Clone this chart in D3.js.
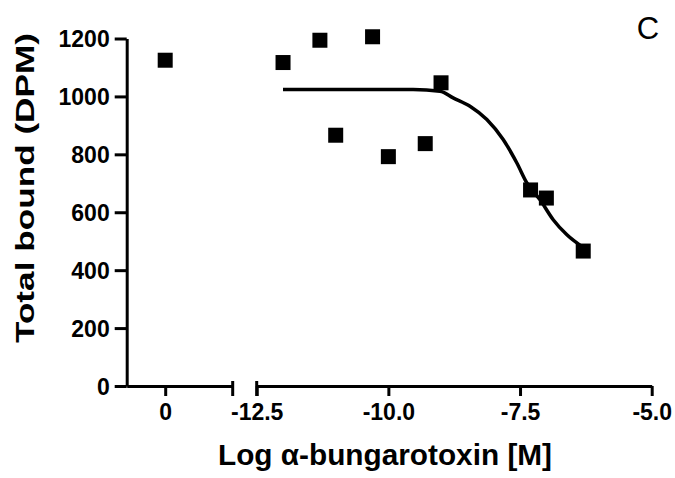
<!DOCTYPE html>
<html>
<head>
<meta charset="utf-8">
<script src="https://cdn.jsdelivr.net/npm/d3@7"></script>
<style>
  body { margin: 0; background: #fff; }
  svg { display: block; font-family: "Liberation Sans", Arial, sans-serif; }
</style>
</head>
<body>
<div id="chart"></div>
<script>
// control (no toxin), plotted on the left axis segment
const ctrlDose  = [0]
const ctrlBound = [1125]

// log [alpha-bungarotoxin] vs total bound
const logDose = [-12, -11.3, -11, -10.3, -10, -9.3, -9, -7.3, -7, -6.3]
const bound   = [1117, 1194, 866, 1206, 792, 837, 1047, 677, 649, 466]

// fitted curve
const fitDose  = [-12, -9.53, -9.02, -8.77, -8.45, -8.13, -7.82, -7.56, -7.37, -7.12, -6.87, -6.61, -6.33]
const fitBound = [1024, 1024, 1018, 995, 966, 920, 851, 770, 701, 643, 574, 522, 482]

const yTicks  = [0, 200, 400, 600, 800, 1000, 1200]
const x0Ticks = [0]
const x1Ticks = [-12.5, -10.0, -7.5, -5.0]

const W = 675, H = 478

const svg = d3.select("#chart").append("svg")
    .attr("width", W)
    .attr("height", H)

// scales (broken x axis: two segments)
const y  = d3.scaleLinear().domain([0, 1200]).range([386, 38.5])
const x0 = d3.scaleLinear().domain([-0.73, 1.28]).range([126.7, 232.7])
const x1 = d3.scaleLinear().domain([-12.5, -5]).range([256.7, 651.7])

const styleAxis = function(g) {
    g.selectAll("path, line")
        .attr("stroke", "#000")
        .attr("stroke-width", 3)
    g.selectAll("text")
        .attr("fill", "#000")
        .style("font-size", "23px")
        .style("font-weight", "bold")
}

// Y axis
svg.append("g")
    .attr("transform", `translate(${x0.range()[0]},0)`)
    .call(d3.axisLeft(y).tickValues(yTicks).tickSize(12).tickSizeOuter(0).tickPadding(5).tickFormat(d3.format("d")))
    .call(styleAxis)
    .call(g => g.selectAll("text").attr("dy", "0.36em"))

// X axis, left segment
svg.append("g")
    .attr("transform", `translate(0,${y(0)})`)
    .call(d3.axisBottom(x0).tickValues(x0Ticks).tickSize(10).tickSizeOuter(0).tickPadding(8).tickFormat(d3.format("d")))
    .call(styleAxis)

// X axis, right segment
svg.append("g")
    .attr("transform", `translate(0,${y(0)})`)
    .call(d3.axisBottom(x1).tickValues(x1Ticks).tickSize(10).tickSizeOuter(0).tickPadding(8).tickFormat(d => d.toFixed(1)))
    .call(styleAxis)

// break caps
svg.selectAll("line.cap")
    .data([x0.range()[1], x1.range()[0]])
    .join("line")
        .attr("class", "cap")
        .attr("x1", d => d).attr("x2", d => d)
        .attr("y1", y(0) - 5).attr("y2", y(0) + 10)
        .attr("stroke", "#000")
        .attr("stroke-width", 3)

// fitted curve
const line = d3.line()
    .x((d, i) => x1(fitDose[i]))
    .y(d => y(d))
    .curve(d3.curveMonotoneX)

svg.append("path")
    .datum(fitBound)
    .attr("d", line)
    .attr("fill", "none")
    .attr("stroke", "#000")
    .attr("stroke-width", 3.5)

// points
const size = 15
svg.selectAll("rect.ctrl")
    .data(ctrlBound)
    .join("rect")
        .attr("class", "ctrl")
        .attr("x", (d, i) => x0(ctrlDose[i]) - size / 2)
        .attr("y", d => y(d) - size / 2)
        .attr("width", size).attr("height", size)
        .attr("fill", "#000")

svg.selectAll("rect.pt")
    .data(bound)
    .join("rect")
        .attr("class", "pt")
        .attr("x", (d, i) => x1(logDose[i]) - size / 2)
        .attr("y", d => y(d) - size / 2)
        .attr("width", size).attr("height", size)
        .attr("fill", "#000")

// axis titles
svg.append("text")
    .attr("transform", "translate(34,188) rotate(-90)")
    .attr("text-anchor", "middle")
    .attr("textLength", 310)
    .attr("lengthAdjust", "spacingAndGlyphs")
    .style("font-size", "26px")
    .style("font-weight", "bold")
    .text("Total bound (DPM)")

svg.append("text")
    .attr("x", 385)
    .attr("y", 465)
    .attr("text-anchor", "middle")
    .attr("textLength", 334)
    .attr("lengthAdjust", "spacingAndGlyphs")
    .style("font-size", "29px")
    .style("font-weight", "bold")
    .text("Log \u03B1-bungarotoxin [M]")

// panel letter
svg.append("text")
    .attr("x", 648)
    .attr("y", 39)
    .attr("text-anchor", "middle")
    .style("font-size", "31px")
    .text("C")
</script>
</body>
</html>
